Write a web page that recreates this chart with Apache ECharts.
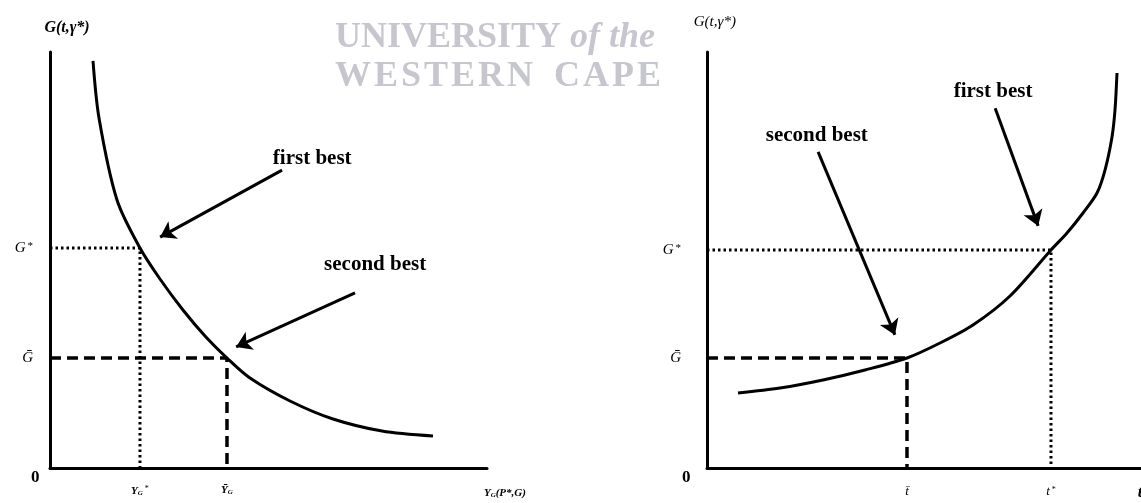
<!DOCTYPE html>
<html><head><meta charset="utf-8">
<script src="https://cdn.jsdelivr.net/npm/echarts@6/dist/echarts.min.js"></script>
<style>html,body{margin:0;padding:0;background:#fff}#c{width:1141px;height:503px}</style>
</head><body><div id="c"></div>
<script>
// ---- Left panel: G(t,γ*) against Y_G(P*,G) (decreasing curve) ----
const leftCurveX = [0.984, 1.121, 1.533, 2.059, 2.517, 3.043, 3.547, 4.050, 4.577, 5.492, 6.476, 7.597, 8.764];
const leftCurveY = [9.784, 8.413, 6.442, 5.288, 4.543, 3.798, 3.173, 2.644, 2.163, 1.611, 1.178, 0.889, 0.769];
const leftFirstBest = [2.059, 5.288];   // (Y_G*, G*)
const leftSecondBest = [4.050, 2.644];  // (Ȳ_G, Ḡ)
const leftArrowFirst = [[5.31, 7.16], [2.52, 5.55]];
const leftArrowSecond = [[6.98, 4.21], [4.26, 2.91]];

// ---- Right panel: G(t,γ*) against t (increasing curve) ----
const rightCurveX = [0.714, 1.682, 2.673, 3.641, 4.608, 5.369, 6.129, 6.982, 7.926, 8.295, 8.664, 8.986, 9.171, 9.332, 9.401, 9.447];
const rightCurveY = [1.803, 1.923, 2.115, 2.356, 2.644, 3.005, 3.438, 4.135, 5.240, 5.649, 6.130, 6.611, 7.163, 7.957, 8.606, 9.495];
const rightFirstBest = [7.926, 5.240];  // (t*, G*)
const rightSecondBest = [4.608, 2.644]; // (t̄, Ḡ)
const rightArrowFirst = [[6.64, 8.65], [7.63, 5.82]];
const rightArrowSecond = [[2.56, 7.60], [4.33, 3.20]];

// ---- Text ----
const annotationTexts = ['first best', 'second best'];
const yAxisTitle = 'G(t,γ*)';
const rightXTitle = 't';
const originLabel = '0';

// text anchor layout (data coords)
const leftTextPos = [[6.0, 7.45], [7.44, 4.88]];
const rightTextPos = [[6.59, 9.04], [2.53, 8.0]];

const serif = '"Liberation Serif","DejaVu Serif",serif';
const close = (a, b) => Math.abs(a - b) < 1e-6;
const zip = (xs, ys) => xs.map((x, i) => [x, ys[i]]);

function baseAxisLine() {
  return { show: true, onZero: false, lineStyle: { color: '#000', width: 3 } };
}

const richY = {
  g: { fontFamily: serif, fontStyle: 'italic', fontSize: 15, color: '#000' },
  st: { fontFamily: serif, fontSize: 11, color: '#000', padding: [0, 0, 4, 2] }
};
const richX = {
  y: { fontFamily: serif, fontStyle: 'italic', fontWeight: 'bold', fontSize: 11, color: '#000' },
  s: { fontFamily: serif, fontStyle: 'italic', fontWeight: 'bold', fontSize: 7, color: '#000', padding: [4, 0, 0, 0] },
  st: { fontFamily: serif, fontSize: 8, color: '#000', padding: [0, 0, 4, 2] },
  t: { fontFamily: serif, fontStyle: 'italic', fontSize: 13, color: '#000' }
};

function textSeries(idx, items) {
  return {
    type: 'scatter', xAxisIndex: idx, yAxisIndex: idx, symbolSize: 0, clip: false, silent: true,
    animation: false, z: 10, itemStyle: { color: '#000', opacity: 1 },
    label: { show: true, color: '#000', textBorderWidth: 0 },
    data: items.map(it => ({ value: it.pos, label: Object.assign({ show: true, position: 'inside', formatter: it.text, color: '#000', rich: richX }, it.style) }))
  };
}

const annStyle = { fontFamily: serif, fontWeight: 'bold', fontSize: 21, color: '#000' };

function panelSeries(idx, cx, cy, fb, sb, aFirst, aSecond) {
  return [
    {
      type: 'line', xAxisIndex: idx, yAxisIndex: idx, data: zip(cx, cy), smooth: 0.3,
      showSymbol: false, lineStyle: { color: '#000', width: 3 }, animation: false, z: 5,
      markLine: {
        silent: true, animation: false, symbol: ['none', 'arrow'], symbolSize: 15,
        lineStyle: { color: '#000', width: 3, type: 'solid' }, label: { show: false },
        data: [
          [{ coord: aFirst[0] }, { coord: aFirst[1] }],
          [{ coord: aSecond[0] }, { coord: aSecond[1] }]
        ]
      }
    },
    {
      type: 'line', xAxisIndex: idx, yAxisIndex: idx, showSymbol: false, animation: false,
      data: [[0, fb[1]], [fb[0], fb[1]], [fb[0], 0]],
      lineStyle: { color: '#000', width: 3, type: [2.5, 3], cap: 'butt' }
    },
    {
      type: 'line', xAxisIndex: idx, yAxisIndex: idx, showSymbol: false, animation: false,
      data: [[0, sb[1]], [sb[0], sb[1]], [sb[0], 0]],
      lineStyle: { color: '#000', width: 3.5, type: [11, 6] }
    }
  ];
}

const option = {
  backgroundColor: '#fff',
  animation: false,
  grid: [
    { left: 50, top: 52, width: 437, height: 416 },
    { left: 707, top: 52, width: 434, height: 416 }
  ],
  xAxis: [
    {
      gridIndex: 0, type: 'value', min: 0, max: 10, axisLine: baseAxisLine(), axisTick: { show: false },
      splitLine: { show: false },
      axisLabel: {
        customValues: [leftFirstBest[0], leftSecondBest[0]], margin: 17, rich: richX,
        formatter: v => close(v, leftFirstBest[0]) ? '{y|Y}{s|G}{st|*}' : '{y|Ȳ}{s|G}'
      }
    },
    {
      gridIndex: 1, type: 'value', min: 0, max: 10, axisLine: baseAxisLine(), axisTick: { show: false },
      splitLine: { show: false },
      axisLabel: {
        customValues: [rightSecondBest[0], rightFirstBest[0]], margin: 17, rich: richX,
        formatter: v => close(v, rightFirstBest[0]) ? '{t|t}{st|*}' : '{t|t̄}'
      }
    }
  ],
  yAxis: [
    {
      gridIndex: 0, type: 'value', min: 0, max: 10, axisLine: baseAxisLine(), axisTick: { show: false },
      splitLine: { show: false },
      axisLabel: {
        customValues: [leftSecondBest[1], leftFirstBest[1]], margin: 17, rich: richY,
        formatter: v => close(v, leftFirstBest[1]) ? '{g|G}{st|*}' : '{g|Ḡ}'
      }
    },
    {
      gridIndex: 1, type: 'value', min: 0, max: 10, axisLine: baseAxisLine(), axisTick: { show: false },
      splitLine: { show: false },
      axisLabel: {
        customValues: [rightSecondBest[1], rightFirstBest[1]], margin: 26, rich: richY,
        formatter: v => close(v, rightFirstBest[1]) ? '{g|G}{st|*}' : '{g|Ḡ}'
      }
    }
  ],
  graphic: [
    { type: 'text', left: 335, top: 20, silent: true, z: -1,
      style: { text: 'UNIVERSITY', fill: '#c6c6ce', font: 'bold 36px ' + serif } },
    { type: 'text', left: 570, top: 20, silent: true, z: -1,
      style: { text: 'of the', fill: '#c6c6ce', font: 'italic bold 36px ' + serif } },
    { type: 'text', left: 335, top: 59, silent: true, z: -1,
      style: { text: 'W E S T E R N   C A P E'.replace(/ (?! )/g, '\u200A'), fill: '#c6c6ce', font: 'bold 36px ' + serif } }
  ],
  series: [
    ...panelSeries(0, leftCurveX, leftCurveY, leftFirstBest, leftSecondBest, leftArrowFirst, leftArrowSecond),
    ...panelSeries(1, rightCurveX, rightCurveY, rightFirstBest, rightSecondBest, rightArrowFirst, rightArrowSecond),
    textSeries(0, [
      { pos: leftTextPos[0], text: annotationTexts[0], style: annStyle },
      { pos: leftTextPos[1], text: annotationTexts[1], style: annStyle },
      { pos: [0.39, 10.58], text: yAxisTitle, style: { fontFamily: serif, fontStyle: 'italic', fontWeight: 'bold', fontSize: 16 } },
      { pos: [10.41, -0.6], text: '{y|Y}{s|G}{y|(P*,G)}', style: {} },
      { pos: [-0.34, -0.24], text: originLabel, style: { fontFamily: serif, fontWeight: 'bold', fontSize: 17 } }
    ]),
    textSeries(1, [
      { pos: rightTextPos[0], text: annotationTexts[0], style: annStyle },
      { pos: rightTextPos[1], text: annotationTexts[1], style: annStyle },
      { pos: [0.18, 10.72], text: yAxisTitle, style: { fontFamily: serif, fontStyle: 'italic', fontSize: 15 } },
      { pos: [9.98, -0.58], text: rightXTitle, style: { fontFamily: serif, fontStyle: 'italic', fontWeight: 'bold', fontSize: 17 } },
      { pos: [-0.48, -0.24], text: originLabel, style: { fontFamily: serif, fontWeight: 'bold', fontSize: 17 } }
    ])
  ]
};

const chart = echarts.init(document.getElementById('c'), null, { renderer: 'canvas' });
chart.setOption(option);
</script>
</body></html>
